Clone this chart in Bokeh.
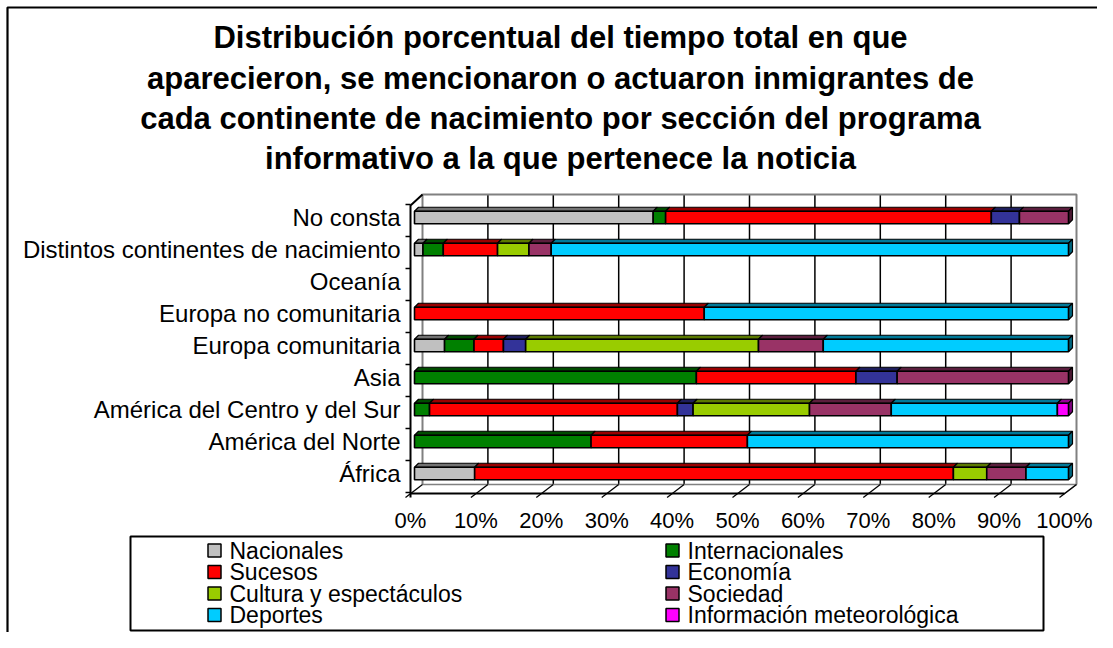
from bokeh.plotting import figure
from bokeh.models import ColumnDataSource, Range1d
from bokeh.core.properties import value
from bokeh.embed import file_html
from bokeh.resources import INLINE

# ---------------- data ----------------
categories = ["África", "América del Norte", "América del Centro y del Sur", "Asia",
              "Europa comunitaria", "Europa no comunitaria", "Oceanía",
              "Distintos continentes de nacimiento", "No consta"]

series_names = ["Nacionales", "Internacionales", "Sucesos", "Economía",
                "Cultura y espectáculos", "Sociedad", "Deportes", "Información meteorológica"]

nacionales      = [9.2, 0.0, 0.0, 0.0, 4.6, 0.0, 0.0, 1.3, 36.5]
internacionales = [0.0, 27.0, 2.3, 43.1, 4.5, 0.0, 0.0, 3.1, 1.9]
sucesos         = [73.2, 23.9, 37.9, 24.4, 4.5, 44.3, 0.0, 8.3, 49.8]
economia        = [0.0, 0.0, 2.4, 6.3, 3.4, 0.0, 0.0, 0.0, 4.3]
cultura         = [5.1, 0.0, 17.8, 0.0, 35.6, 0.0, 0.0, 4.8, 0.0]
sociedad        = [6.0, 0.0, 12.5, 26.2, 9.9, 0.0, 0.0, 3.4, 7.5]
deportes        = [6.5, 49.1, 25.4, 0.0, 37.5, 55.7, 0.0, 79.1, 0.0]
meteorologica   = [0.0, 0.0, 1.7, 0.0, 0.0, 0.0, 0.0, 0.0, 0.0]

series_values = [nacionales, internacionales, sucesos, economia,
                 cultura, sociedad, deportes, meteorologica]

colors = ["#C0C0C0", "#008000", "#FF0000", "#333399",
          "#99CC00", "#993366", "#00CCFF", "#FF00FF"]

tick_values = [0, 10, 20, 30, 40, 50, 60, 70, 80, 90, 100]
tick_labels = ["0%", "10%", "20%", "30%", "40%", "50%", "60%", "70%", "80%", "90%", "100%"]

title_lines = ["Distribución porcentual del tiempo total en que",
               "aparecieron, se mencionaron o actuaron inmigrantes de",
               "cada continente de nacimiento por sección del programa",
               "informativo a la que pertenece la noticia"]

# ---------------- layout (pixel -> data) ----------------
W, H = 1097, 632
X0, PXU = 414.0, 6.54     # x pixel of 0 %, px per %
Y0, PYU = 473.0, 32.0     # y pixel of first category, px per category


def X(pg):
    return (pg - X0) / PXU


def Y(pg):
    return (Y0 - pg) / PYU


def dxp(px):
    return px / PXU


def dyp(px):
    return px / PYU


def darker(hexcol, f=0.6):
    r = int(hexcol[1:3], 16); g = int(hexcol[3:5], 16); b = int(hexcol[5:7], 16)
    return "#%02x%02x%02x" % (int(r * f), int(g * f), int(b * f))


FONT = value("Liberation Sans")

p = figure(width=W, height=H, output_backend="svg", toolbar_location=None,
           x_range=Range1d(X(0), X(W)), y_range=Range1d(Y(H), Y(0)),
           x_axis_type=None, y_axis_type=None, min_border=0)
p.grid.visible = False
p.outline_line_color = None
p.background_fill_color = "white"
p.border_fill_color = "white"

# outer frame (left and top edges visible)
p.line(x=[X(7), X(7), X(W + 5)], y=[Y(H + 5), Y(7), Y(7)], line_color="black", line_width=2.2)

# ---------------- 3D walls ----------------
back_dx = 8      # px shift of back plane relative to bars
front_dx = -4    # px shift of floor front relative to bars
wall_top, floor_back, floor_front = 194, 484, 493

grid_x = [v + dxp(back_dx) for v in tick_values]
p.segment(x0=grid_x[1:-1], x1=grid_x[1:-1], y0=[Y(floor_back)] * 9, y1=[Y(wall_top)] * 9,
          line_color="black", line_width=1.5)
gray = "#808080"
p.line(x=[grid_x[0], grid_x[0], grid_x[-1], grid_x[-1]],
       y=[Y(floor_back), Y(wall_top), Y(wall_top), Y(floor_back)],
       line_color=gray, line_width=2)
p.line(x=[grid_x[0], grid_x[-1]], y=[Y(floor_back), Y(floor_back)], line_color=gray, line_width=1.5)
front_x = [v + dxp(front_dx) for v in tick_values]
p.line(x=[front_x[0], front_x[-1]], y=[Y(floor_front), Y(floor_front)], line_color="black", line_width=2)
p.line(x=[front_x[-1], grid_x[-1]], y=[Y(floor_front), Y(floor_back)], line_color=gray, line_width=1.5)
p.segment(x0=[fx - dxp(5) for fx in front_x], y0=[Y(floor_front + 4)] * 11,
          x1=[fx + dxp(12) for fx in front_x], y1=[Y(floor_back)] * 11,
          line_color="black", line_width=1.3)
p.line(x=[front_x[0], front_x[0], grid_x[0]],
       y=[Y(floor_front + 4), Y(205), Y(wall_top)], line_color="black", line_width=2)
bounds = [i - 0.5 - dyp(3) for i in range(len(categories) + 1)]
p.segment(x0=[front_x[0] - dxp(5)] * len(bounds), x1=[front_x[0]] * len(bounds),
          y0=bounds, y1=bounds, line_color="black", line_width=1.5)

# ---------------- bars ----------------
bar_h = 12.5 / PYU
d_x, d_y = dxp(4), dyp(4)
rows = {"y": [], "left": [], "right": [], "color": []}
tops = {"xs": [], "ys": [], "color": []}
sides = {"xs": [], "ys": [], "color": []}
for i in range(len(categories)):
    cum = 0.0
    last = None
    for s, vals in enumerate(series_values):
        v = vals[i]
        if v <= 0:
            continue
        l, r = cum, cum + v
        cum = r
        rows["y"].append(i); rows["left"].append(l); rows["right"].append(r)
        rows["color"].append(colors[s])
        t = i + bar_h / 2
        tops["xs"].append([l, l + d_x, r + d_x, r])
        tops["ys"].append([t, t + d_y, t + d_y, t])
        tops["color"].append(darker(colors[s]))
        last = (r, i, colors[s])
    if last is not None:
        r, yy, c = last
        b, t = yy - bar_h / 2, yy + bar_h / 2
        sides["xs"].append([r, r + d_x, r + d_x, r])
        sides["ys"].append([b, b + d_y, t + d_y, t])
        sides["color"].append(darker(c, 0.5))

p.patches(xs="xs", ys="ys", fill_color="color", line_color="black", line_width=1.2,
          source=ColumnDataSource(tops))
p.patches(xs="xs", ys="ys", fill_color="color", line_color="black", line_width=1.2,
          source=ColumnDataSource(sides))
p.hbar(y="y", left="left", right="right", height=bar_h, fill_color="color",
       line_color="black", line_width=1.6, source=ColumnDataSource(rows))

# ---------------- texts ----------------
p.text(x=[X(400)] * len(categories), y=list(range(len(categories))), text=categories,
       text_font=FONT, text_font_size="24px", text_align="right", text_baseline="middle",
       text_color="black")
p.text(x=front_x, y=[Y(520)] * len(tick_values), text=tick_labels,
       text_font=FONT, text_font_size="22px", text_align="center", text_baseline="middle",
       text_color="black")
title_y = [37, 78, 118, 158]
p.text(x=[X(560)] * 4, y=[Y(v) for v in title_y], text=title_lines,
       text_font=FONT, text_font_size="31px", text_font_style="bold",
       text_align="center", text_baseline="middle", text_color="black")

# ---------------- legend ----------------
p.quad(left=[X(130)], right=[X(1043)], top=[Y(536)], bottom=[Y(630)],
       fill_color="white", line_color="black", line_width=2)
leg = {"x": [], "y": [], "label": [], "color": [], "tx": []}
for k, name in enumerate(series_names):
    col, row = k % 2, k // 2
    cx = 214 if col == 0 else 672
    cy = 550 + 21.5 * row
    leg["x"].append(X(cx)); leg["y"].append(Y(cy)); leg["label"].append(name)
    leg["color"].append(colors[k]); leg["tx"].append(X(cx + 15))
src = ColumnDataSource(leg)
p.rect(x="x", y="y", width=dxp(13), height=dyp(13), fill_color="color",
       line_color="black", line_width=1.5, source=src)
p.text(x="tx", y="y", text="label", source=src, text_font=FONT, text_font_size="23px",
       text_align="left", text_baseline="middle", text_color="black")

open("out.html", "w").write(file_html(p, INLINE))
